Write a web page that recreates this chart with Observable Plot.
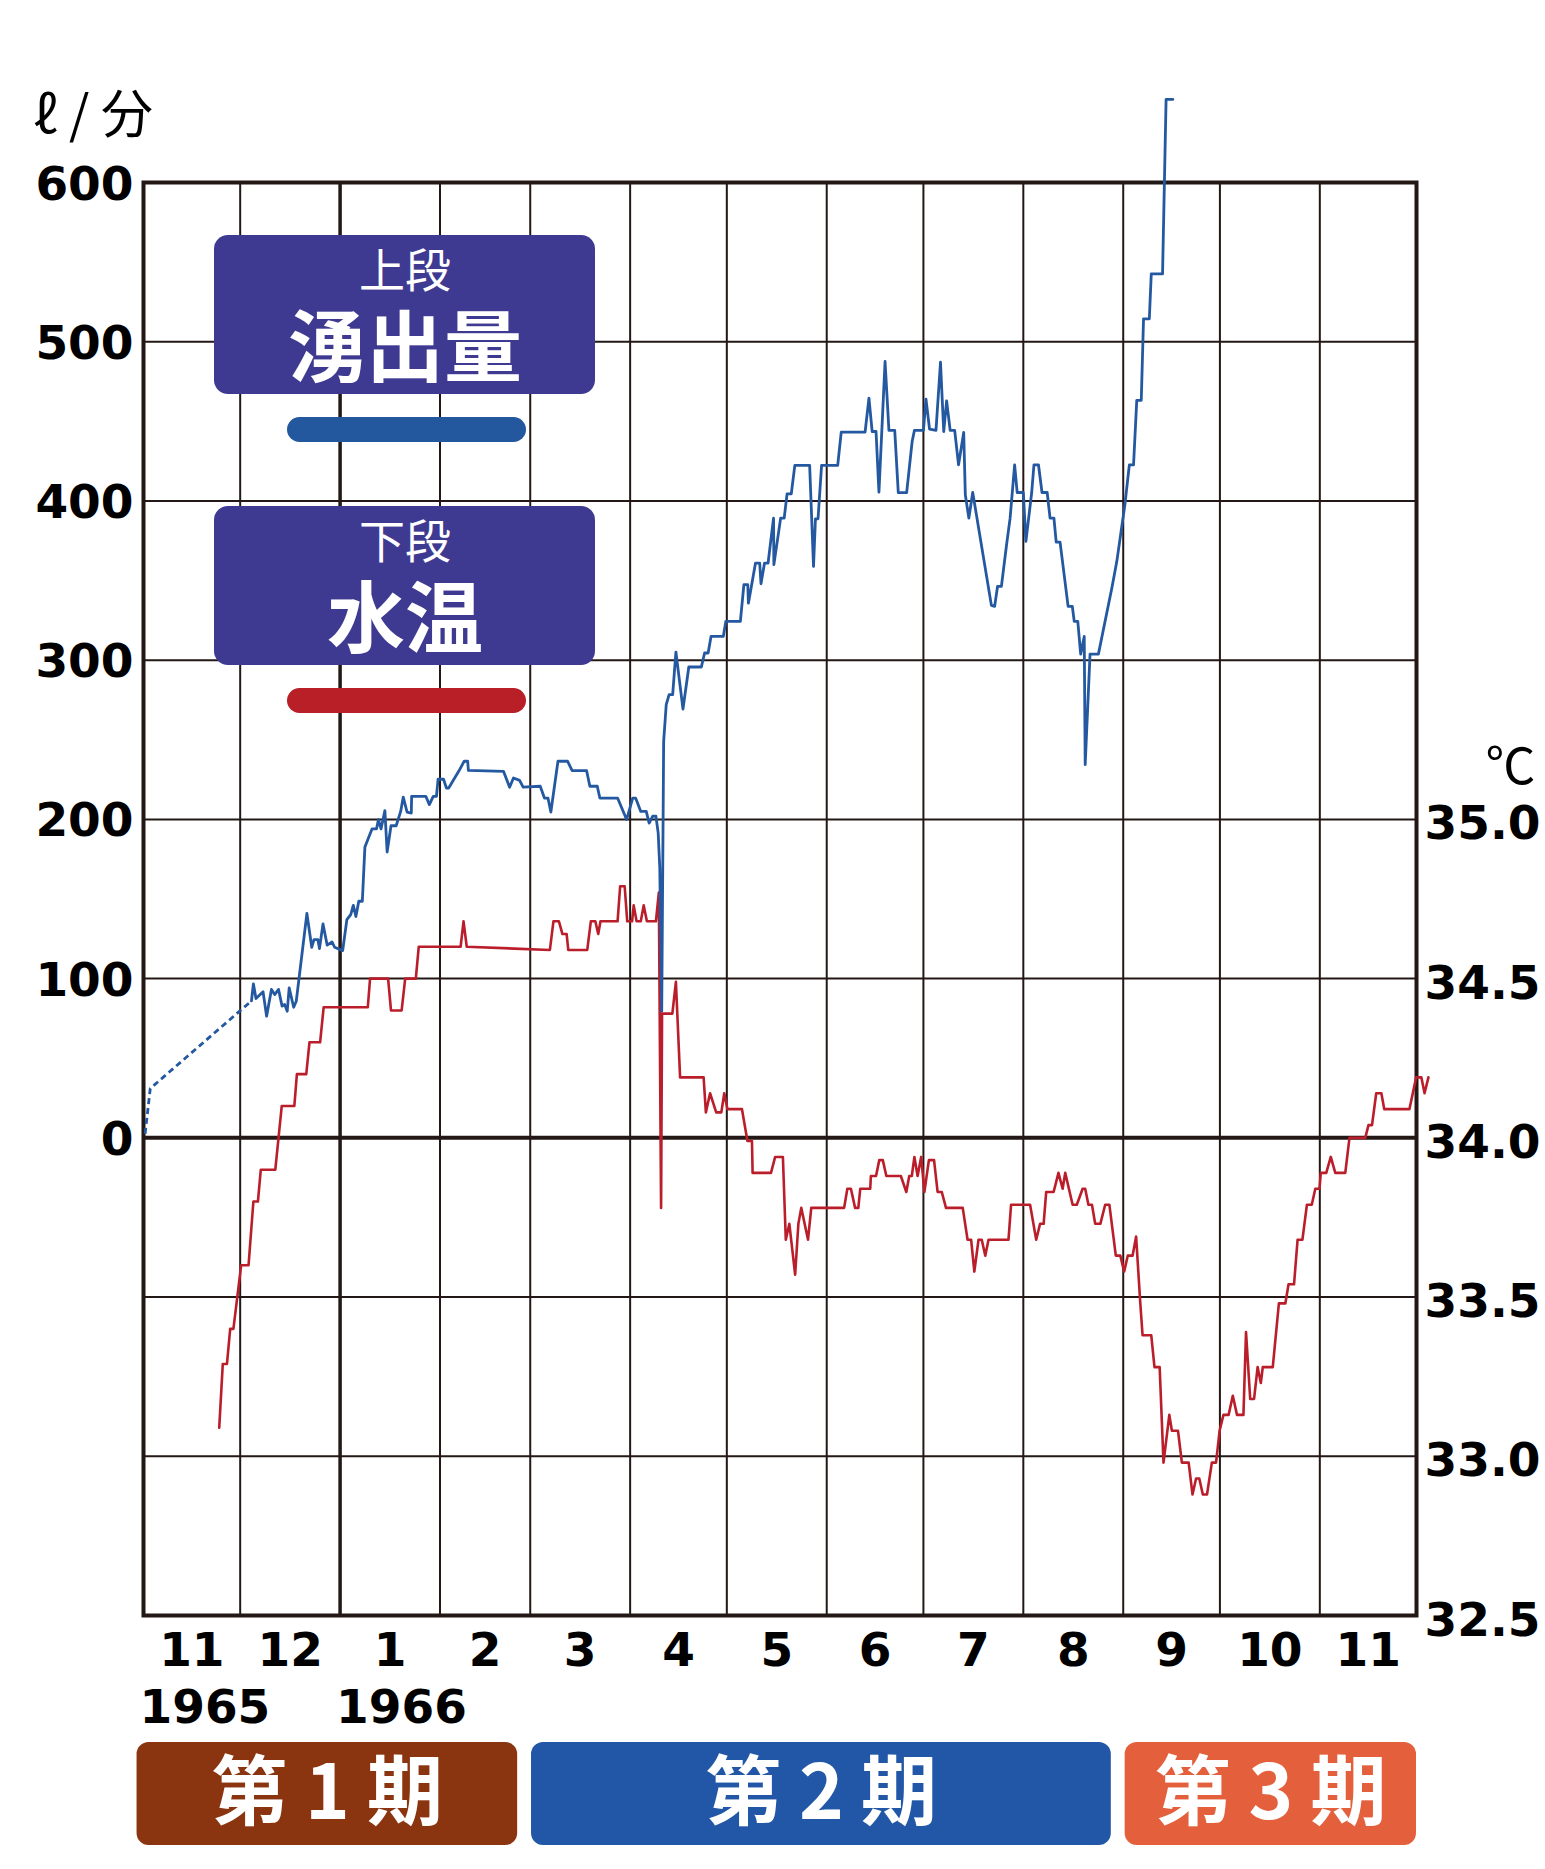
<!DOCTYPE html>
<html><head><meta charset="utf-8">
<script src="https://cdn.jsdelivr.net/npm/d3@7"></script>
<script src="https://cdn.jsdelivr.net/npm/@observablehq/plot@0.6"></script>
<style>
@font-face{font-family:"LegendJP";font-weight:400;src:local("Noto Sans CJK JP Regular"),local("NotoSansCJKjp-Regular"),local("Noto Sans CJK JP");ascent-override:88%;descent-override:12%;line-gap-override:0%;}
@font-face{font-family:"LegendJP";font-weight:700;src:local("Noto Sans CJK JP Bold"),local("NotoSansCJKjp-Bold");ascent-override:88%;descent-override:12%;line-gap-override:0%;}
html,body{margin:0;padding:0;background:#fff;}
#wrap{position:relative;width:1545px;height:1869px;overflow:hidden;}
#wrap svg{display:block;}
#wrap svg.periods{position:absolute;left:0;top:1705px;}
.box{position:absolute;left:214px;width:381px;height:159px;background:#3e3a91;border-radius:14px;color:#fff;text-align:center;font-family:"LegendJP","Noto Sans CJK JP";}
.box .small{position:absolute;left:0;right:0;top:12px;font-size:46px;line-height:1;font-weight:400;}
.box .big{position:absolute;left:0;right:0;top:72px;font-size:78px;line-height:1;font-weight:700;}
.swatch{position:absolute;left:287px;width:239px;height:25px;border-radius:12.5px;}
</style></head><body><div id="wrap"></div>
<script>
// ---- data (day = days after 1965-11-01) ----
const flowTicks = [600, 500, 400, 300, 200, 100, 0];
const tempTicks = [35.0, 34.5, 34.0, 33.5, 33.0, 32.5];
const monthLabels = ["11","12","1","2","3","4","5","6","7","8","9","10","11"];
const yearLabels = ["1965", "1966"];
const yearStartDays = [0, 61];
const periodNames = ["第 1 期", "第 2 期", "第 3 期"];
const periodStartDays = [-2, 120.4, 304.6];
const periodEndDays = [116.1, 300.3, 395];
const periodColors = ["#8a3510", "#2157a6", "#e4603d"];
const legendSmall = ["上段", "下段"];
const legendBig = ["湧出量", "水温"];

// 湧出量 (ℓ/分): estimated start (dotted)
const flowDotted = [[0.5, 2.5], [2.1, 31], [33.5, 86]];
// 湧出量 (ℓ/分): measured
const flowReadings = [
 [33.5,86],[34.1,96.7],[34.9,87.5],[37.1,91.7],[38.2,76.4],[39.7,93.2],[40.7,90],[41.9,93.2],[43.0,82.7],[43.8,83.7],
 [44.6,79.5],[45.2,94.2],[46.6,82],[47.4,85.8],[50.7,140.9],[52.2,119.7],[52.9,124.5],[54.1,124.5],[54.6,118.9],[55.7,134.3],
 [57.0,121],[58.5,123],[59.3,119.7],[61.8,117.6],[63.1,137],[64.3,140.2],[65.1,146],[65.9,139],[66.8,148.6],[67.9,148.6],
 [68.7,182.7],[70.9,194],[72.3,194],[72.9,199.9],[73.7,194],[74.9,205.5],[75.6,179.5],[76.8,196],[78.4,196],[79.8,205],
 [80.6,214],[81.8,204.5],[83.1,204],[83.2,214.5],[87.6,214.5],[88.7,209.3],[89.9,214.5],[90.9,214.5],[91.4,225.2],[93.1,225.2],
 [94.0,219.7],[94.7,219.7],[97.8,230.2],[99.5,236.5],[100.6,236.5],[100.8,230.8],[111.7,230.2],[113.6,220.2],[114.8,226],[116.7,224.5],
 [117.8,220.2],[123.1,220.8],[124.4,213.4],[125.5,213.4],[126.4,204.6],[128.6,236.5],[131.6,236.5],[133.0,230.6],[137.5,230.6],[138.5,220.8],
 [140.8,220.8],[141.6,213.4],[147.1,213.4],[149.9,199.9],[151.8,213.4],[152.7,213.4],[154.3,205],[156.0,205],[156.9,197.7],[158.0,202],
 [159.0,202],[159.7,191.5],[160.2,169.5],[160.8,79.5],[161.4,249],[162.2,272.1],[163.1,278.3],[164.2,278.3],[165.2,305.1],[167.4,269.3],
 [169.2,295.7],[173.1,295.7],[174.1,304.5],[175.2,304.5],[176.1,314.9],[179.9,314.9],[180.7,324.4],[185.2,324.4],[186.3,347.4],[187.5,347.4],
 [187.7,335.8],[189.9,361],[191.2,361],[191.6,348],[192.7,361],[193.8,361],[195.5,389.2],[195.6,360],[197.7,389.2],[198.8,389.2],
 [199.7,404.5],[201.0,404.5],[202.1,422.3],[206.7,422.3],[207.9,358.9],[208.5,388.8],[209.3,388.8],[210.4,422.3],[215.4,422.3],[216.5,443.2],
 [223.9,443.2],[225.1,464.5],[226.1,443.6],[227.3,443.6],[228.2,405.5],[230.1,487.6],[231.3,444.3],[233.1,444.3],[234.2,405.2],[236.8,405.2],
 [238.5,437.3],[239.2,444.3],[242.0,444.3],[242.8,463.9],[243.9,445.1],[245.9,444.3],[247.3,487.1],[248.3,443.6],[249.2,462.9],[250.3,444.3],
 [251.7,444.3],[252.9,422.7],[254.5,443],[255.0,403.9],[256.1,389.2],[257.3,405.3],[263.1,334.4],[264.1,333.8],[265.0,346.3],[266.2,346.3],
 [267.8,372.5],[268.9,389.2],[270.3,422.7],[271.1,405.3],[273.0,405.3],[273.8,374.6],[275.6,405.3],[276.3,422.7],[277.7,422.7],[278.8,405.3],
 [280.4,405.3],[281.3,389.2],[282.5,389.2],[283.2,374.1],[284.4,374.1],[286.9,333.8],[288.2,333.8],[288.8,324.4],[289.9,324.4],[290.8,303.8],
 [291.9,314.9],[292.2,234.4],[293.7,303.8],[296.3,303.8],[300.5,345.6],[302.0,361.9],[304.5,397.4],[305.9,422.6],[307.2,422.6],[308.2,463.2],
 [309.6,463.2],[310.3,514.4],[312.1,514.4],[312.7,542.6],[316.2,542.6],[317.3,652.2],[319.4,652.2]
];
// 水温 (℃)
const tempReadings = [
 [23.5,33.09],[24.6,33.29],[25.9,33.29],[26.9,33.40],[27.9,33.40],[30.3,33.60],[32.6,33.60],[34.1,33.80],[35.5,33.80],[36.4,33.90],
 [40.9,33.90],[42.9,34.10],[46.8,34.10],[47.6,34.20],[50.5,34.20],[51.5,34.30],[54.8,34.30],[55.9,34.41],[69.6,34.41],[70.3,34.50],
 [75.9,34.50],[76.8,34.40],[80.1,34.40],[81.2,34.50],[84.5,34.50],[85.4,34.60],[98.4,34.60],[99.3,34.68],[100.3,34.60],[126.1,34.59],
 [127.2,34.68],[128.9,34.68],[130.0,34.64],[131.3,34.64],[131.8,34.59],[137.7,34.59],[138.8,34.68],[140.2,34.68],[141.1,34.64],[141.8,34.68],
 [147.1,34.68],[147.9,34.79],[149.3,34.79],[150.1,34.68],[151.6,34.68],[152.1,34.73],[153.0,34.68],[154.3,34.68],[155.2,34.73],[156.2,34.68],
 [159.0,34.68],[159.9,34.77],[160.6,33.78],[160.9,34.39],[164.1,34.39],[165.2,34.49],[166.5,34.19],[173.8,34.19],[174.5,34.08],[175.8,34.14],
 [177.7,34.08],[179.3,34.08],[180.2,34.14],[181.2,34.09],[185.7,34.09],[187.4,33.99],[188.8,33.99],[189.0,33.89],[194.7,33.89],[196.0,33.94],
 [198.4,33.94],[199.3,33.68],[200.4,33.73],[202.2,33.57],[203.2,33.73],[204.1,33.78],[206.2,33.68],[207.2,33.78],[217.4,33.78],[218.4,33.84],
 [219.5,33.84],[220.8,33.78],[221.8,33.78],[222.4,33.84],[225.5,33.84],[225.7,33.88],[227.3,33.88],[228.3,33.93],[229.4,33.93],[230.5,33.88],
 [235.0,33.88],[236.7,33.83],[237.6,33.88],[238.4,33.88],[239.2,33.94],[240.2,33.88],[241.3,33.94],[242.3,33.83],[243.7,33.93],[245.3,33.93],
 [246.4,33.83],[247.7,33.83],[249.0,33.78],[254.2,33.78],[255.7,33.68],[256.8,33.68],[257.8,33.58],[259.1,33.68],[260.1,33.68],[261.2,33.63],
 [262.2,33.68],[268.4,33.68],[269.2,33.79],[275.1,33.79],[277.0,33.68],[278.2,33.73],[279.3,33.73],[280.1,33.83],[282.4,33.83],[283.9,33.89],
 [285.2,33.84],[286.0,33.89],[288.3,33.79],[289.6,33.79],[291.4,33.84],[292.2,33.84],[293.2,33.79],[294.3,33.79],[295.3,33.73],[296.9,33.73],
 [298.4,33.79],[299.7,33.79],[301.7,33.63],[303.1,33.63],[304.3,33.58],[305.4,33.63],[306.9,33.63],[308.0,33.69],[309.3,33.48],[310.0,33.38],
 [312.7,33.38],[313.7,33.28],[315.3,33.28],[316.5,32.98],[318.3,33.13],[319.1,33.08],[321.0,33.08],[322.2,32.98],[324.3,32.98],[325.5,32.88],
 [326.6,32.93],[327.6,32.93],[328.7,32.88],[330.0,32.88],[331.5,32.98],[332.8,32.98],[333.9,33.08],[335.1,33.13],[336.7,33.13],[338.0,33.19],
 [339.3,33.13],[341.3,33.13],[342.1,33.39],[343.4,33.18],[344.6,33.18],[345.7,33.28],[346.7,33.23],[347.3,33.28],[350.4,33.28],[352.3,33.48],
 [354.3,33.48],[355.3,33.54],[357.0,33.54],[358.1,33.68],[359.6,33.68],[361.0,33.79],[362.5,33.79],[363.6,33.84],[364.9,33.84],[365.3,33.89],
 [367.0,33.89],[368.4,33.94],[369.8,33.89],[372.9,33.89],[374.2,34.00],[379.1,34.00],[380.1,34.04],[381.2,34.04],[382.5,34.14],[384.1,34.14],
 [385.0,34.09],[392.8,34.09],[394.9,34.19],[396.5,34.19],[397.5,34.14],[398.7,34.19]
];

// ---- build ----
const GRID = "#231815", BLUE = "#2459a1", RED = "#bb1e2b";
const t0 = Date.UTC(1965, 10, 1);
const dayToDate = d => new Date(t0 + d * 864e5);
const xStart = new Date(Date.UTC(1965, 10, 1)), xEnd = new Date(Date.UTC(1966, 11, 1));
const tempToY = t => (t - 34) * 200;   // 34.0℃ ↔ 0, 0.5℃ ↔ 100

const flow = flowReadings.map(([d, v]) => ({date: dayToDate(d), v}));
const flowEst = flowDotted.map(([d, v]) => ({date: dayToDate(d), v}));
const temp = tempReadings.map(([d, t]) => ({date: dayToDate(d), v: tempToY(t)}));

const months = d3.utcMonth.range(xStart, xEnd);
const monthMid = months.map((m, i) => ({date: new Date((+m + +d3.utcMonth.offset(m, 1)) / 2), label: monthLabels[i]}));
const jan1 = new Date(Date.UTC(1966, 0, 1));
const thinMonthLines = months.slice(1).filter(m => +m !== +jan1);
const gridValues = d3.range(-300, 601, 100).filter(v => v !== 0);
const years = yearLabels.map((y, i) => ({date: dayToDate(yearStartDays[i]), label: y}));

const labelFont = {fontFamily: "DejaVu Sans", fontWeight: "bold", fontSize: 47, fill: "#000"};

const main = Plot.plot({
  width: 1545, height: 1760,
  marginLeft: 143, marginRight: 129, marginTop: 182, marginBottom: 145,
  x: {type: "utc", domain: [xStart, xEnd], axis: null},
  y: {domain: [-300, 600], axis: null},
  marks: [
    Plot.ruleY(gridValues, {stroke: GRID, strokeWidth: 2}),
    Plot.ruleX(thinMonthLines, {stroke: GRID, strokeWidth: 2}),
    Plot.ruleX([jan1], {stroke: GRID, strokeWidth: 3.5}),
    Plot.ruleY([0], {stroke: GRID, strokeWidth: 4}),
    Plot.frame({stroke: GRID, strokeWidth: 4}),
    Plot.line(temp, {x: "date", y: "v", stroke: RED, strokeWidth: 2.6}),
    Plot.line(flowEst, {x: "date", y: "v", stroke: BLUE, strokeWidth: 2.8, strokeDasharray: "6,4", strokeLinecap: "butt"}),
    Plot.line(flow, {x: "date", y: "v", stroke: BLUE, strokeWidth: 2.8}),
    Plot.text(flowTicks, {y: d => d, text: d => String(d), frameAnchor: "left", textAnchor: "end", dx: -10, dy: 2, ...labelFont}),
    Plot.text(tempTicks, {y: d => tempToY(d), text: d => d.toFixed(1), frameAnchor: "right", textAnchor: "start", dx: 8, dy: 5, ...labelFont}),
    Plot.text(monthMid, {x: "date", text: "label", frameAnchor: "bottom", dy: 50, ...labelFont}),
    Plot.text(years, {x: "date", text: "label", frameAnchor: "bottom", textAnchor: "start", dx: -4, dy: 107, ...labelFont}),
    Plot.text(["ℓ / 分"], {frameAnchor: "top-left", textAnchor: "start", dx: -110, dy: -86, fontFamily: "Noto Sans CJK JP", fontSize: 52, fill: "#000"}),
    Plot.text(["℃"], {frameAnchor: "top-right", textAnchor: "end", dx: 119, dy: 566, fontFamily: "Noto Sans CJK JP", fontSize: 50, fill: "#000"})
  ]
});

const periods = periodNames.map((n, i) => ({name: n, start: dayToDate(periodStartDays[i]), end: dayToDate(periodEndDays[i]), color: periodColors[i]}));
const periodPlot = Plot.plot({
  width: 1545, height: 164,
  marginLeft: 143, marginRight: 129, marginTop: 37, marginBottom: 24,
  x: {type: "utc", domain: [xStart, xEnd], axis: null},
  y: {axis: null},
  color: {type: "identity"},
  marks: [
    Plot.rect(periods, {x1: "start", x2: "end", fill: "color", rx: 12}),
    Plot.text(periods, {x: d => new Date((+d.start + +d.end) / 2), text: "name", frameAnchor: "middle", fill: "#fff", fontFamily: "Noto Sans CJK JP", fontWeight: "bold", fontSize: 76, dy: 1})
  ]
});
periodPlot.classList.add("periods");

const wrap = document.getElementById("wrap");
wrap.appendChild(main);
wrap.appendChild(periodPlot);

// legend boxes
const boxTops = [235, 506], swatchTops = [417, 688], swatchColors = ["#23589e", "#b81f27"];
legendBig.forEach((big, i) => {
  const b = document.createElement("div");
  b.className = "box";
  b.style.top = boxTops[i] + "px";
  b.innerHTML = `<div class="small">${legendSmall[i]}</div><div class="big">${big}</div>`;
  wrap.appendChild(b);
  const s = document.createElement("div");
  s.className = "swatch";
  s.style.top = swatchTops[i] + "px";
  s.style.background = swatchColors[i];
  wrap.appendChild(s);
});
</script></body></html>
